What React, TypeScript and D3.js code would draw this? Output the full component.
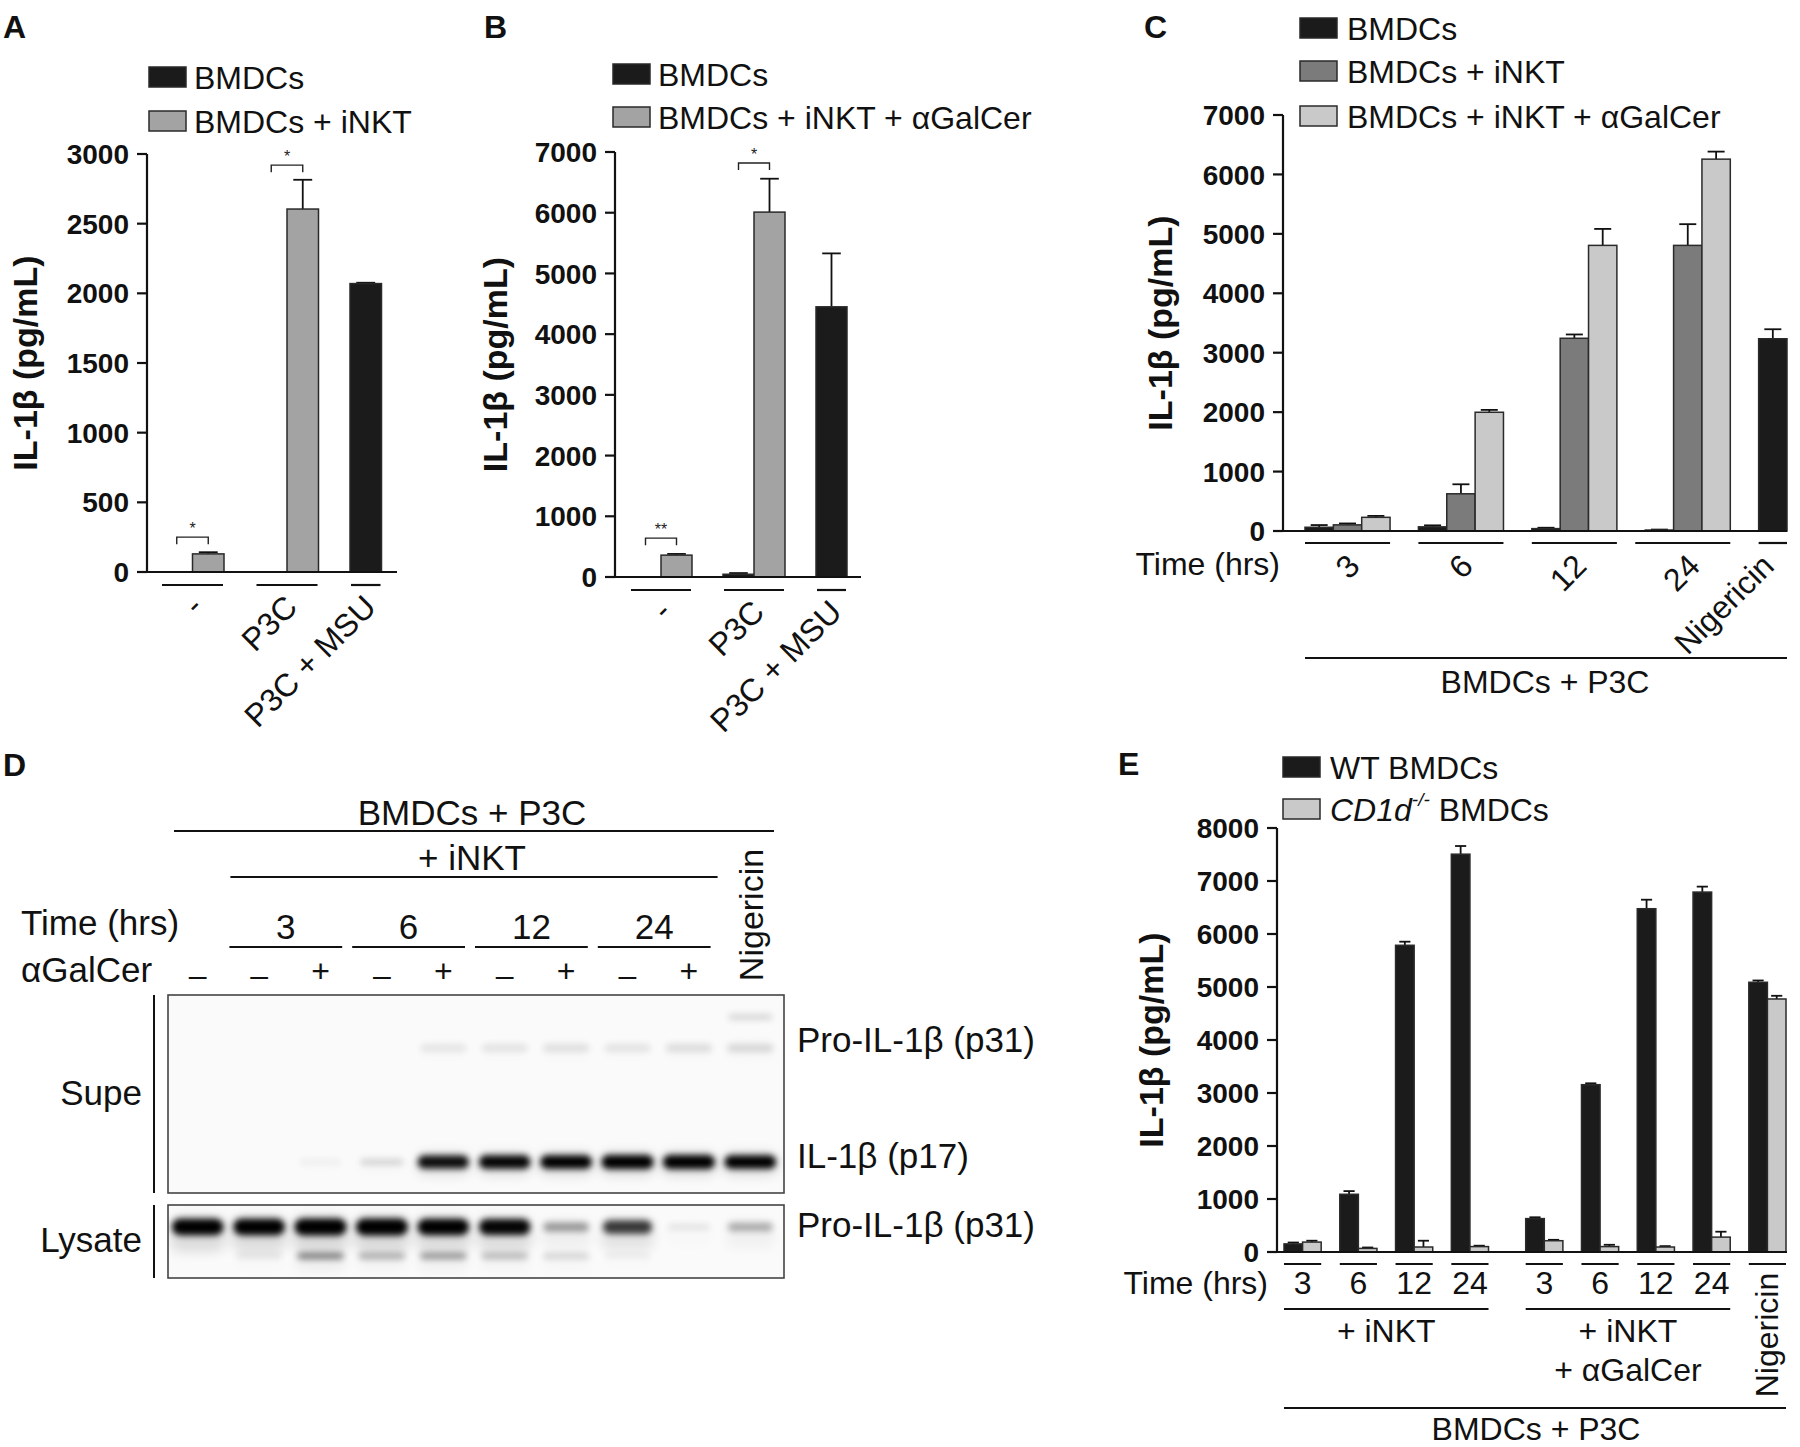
import React from "react";
import * as d3 from "d3";

const FONT = "'Liberation Sans', Arial, Helvetica, sans-serif";
const C_BLACK = "#1b1b1b";
const C_GRAY = "#a3a3a3";
const C_DARK = "#7b7b7b";
const C_LIGHT = "#c9c9c9";
const C_STROKE = "#2a2a2a";

// ---------- Panel A ----------
const aCategories = ["-", "P3C", "P3C + MSU"];
const aLegend = ["BMDCs", "BMDCs + iNKT"];
const aBMDCs = [0, 0, 2070];
const aBMDCsErr = [0, 0, 6];
const aINKT = [130, 2605, NaN];
const aINKTErr = [12, 210, NaN];
const aTicks = [0, 500, 1000, 1500, 2000, 2500, 3000];
const aSig = [
  { group: 0, label: "*", level: 250 },
  { group: 1, label: "*", level: 2920 },
];

// ---------- Panel B ----------
const bCategories = ["-", "P3C", "P3C + MSU"];
const bLegend = ["BMDCs", "BMDCs + iNKT + αGalCer"];
const bBMDCs = [0, 45, 4450];
const bBMDCsErr = [0, 20, 880];
const bAgal = [360, 6010, NaN];
const bAgalErr = [20, 550, NaN];
const bTicks = [0, 1000, 2000, 3000, 4000, 5000, 6000, 7000];
const bSig = [
  { group: 0, label: "**", level: 640 },
  { group: 1, label: "*", level: 6820 },
];

// ---------- Panel C ----------
const cCategories = ["3", "6", "12", "24", "Nigericin"];
const cLegend = ["BMDCs", "BMDCs + iNKT", "BMDCs + iNKT + αGalCer"];
const cBMDCs = [63, 70, 40, 16, 3235];
const cBMDCsErr = [37, 25, 15, 8, 160];
const cINKT = [103, 626, 3243, 4806, NaN];
const cINKTErr = [24, 160, 64, 357, NaN];
const cAgal = [230, 1998, 4806, 6257, NaN];
const cAgalErr = [24, 40, 277, 127, NaN];
const cTicks = [0, 1000, 2000, 3000, 4000, 5000, 6000, 7000];

// ---------- Panel D (western blot) ----------
const dLanes = ["L1", "L2", "L3", "L4", "L5", "L6", "L7", "L8", "L9", "L10"];
const dAgal = ["–", "–", "+", "–", "+", "–", "+", "–", "+", ""];
const dTimes = ["3", "6", "12", "24"];
const dSupeP31 = [0, 0, 0, 0, 0.07, 0.08, 0.09, 0.08, 0.1, 0.12];
const dSupeHigh = [0, 0, 0, 0, 0, 0, 0, 0, 0, 0.14];
const dSupeP17 = [0, 0, 0.04, 0.13, 0.9, 0.93, 0.96, 1, 1, 0.97];
const dLysP31 = [0.95, 0.95, 1, 1, 0.95, 0.93, 0.35, 0.72, 0.08, 0.28];
const dLysLow = [0, 0.06, 0.45, 0.27, 0.36, 0.22, 0.13, 0.04, 0, 0];

// ---------- Panel E ----------
const eLegend = ["WT BMDCs", "CD1d-/- BMDCs"];
const eTimes = ["3", "6", "12", "24", "3", "6", "12", "24", "Nigericin"];
const eWT = [153, 1089, 5787, 7506, 630, 3157, 6477, 6791, 5089];
const eWTErr = [26, 60, 68, 154, 25, 26, 170, 103, 34];
const eCD1d = [187, 68, 94, 102, 213, 102, 94, 281, 4774];
const eCD1dErr = [26, 17, 119, 17, 17, 34, 17, 102, 60];
const eTicks = [0, 1000, 2000, 3000, 4000, 5000, 6000, 7000, 8000];

type Bar = { slot: number; value: number; err: number; fill: string };

function BarsLayer({ sx, y, bars }: { sx: any; y: any; bars: Bar[] }) {
  return (
    <g>
      {bars
        .filter((b) => !isNaN(b.value))
        .map((b, i) => {
          const x0 = sx(b.slot);
          const x1 = sx(b.slot + 1);
          const w = x1 - x0;
          const cx = (x0 + x1) / 2;
          const top = y(b.value);
          const base = y(0);
          const et = y(b.value + b.err);
          return (
            <g key={i}>
              {b.err > 0 && (
                <g stroke="#111" strokeWidth={1.8}>
                  <line x1={cx} x2={cx} y1={top} y2={et} />
                  <line x1={cx - w * 0.3} x2={cx + w * 0.3} y1={et} y2={et} />
                </g>
              )}
              {b.value > 0 && (
                <rect
                  x={x0}
                  y={top}
                  width={w}
                  height={base - top}
                  fill={b.fill}
                  stroke={C_STROKE}
                  strokeWidth={1.5}
                />
              )}
            </g>
          );
        })}
    </g>
  );
}

function YAxis({ x, y, ticks, labelX }: any) {
  const y0 = y(ticks[0]);
  const y1 = y(ticks[ticks.length - 1]);
  return (
    <g>
      <line x1={x} x2={x} y1={y0 + 1} y2={y1} stroke="#111" strokeWidth={2.2} />
      {ticks.map((t: number) => (
        <g key={t}>
          <line x1={x - 10} x2={x} y1={y(t)} y2={y(t)} stroke="#111" strokeWidth={2.2} />
          <text
            x={x - 18}
            y={y(t)}
            dy="0.36em"
            textAnchor="end"
            fontFamily={FONT}
            fontWeight="bold"
            fontSize={28}
            fill="#111"
          >
            {t}
          </text>
        </g>
      ))}
      <text
        transform={`translate(${labelX},${(y0 + y1) / 2}) rotate(-90)`}
        textAnchor="middle"
        fontFamily={FONT}
        fontWeight="bold"
        fontSize={34}
        fill="#111"
      >
        IL-1β (pg/mL)
      </text>
    </g>
  );
}

function Legend({ x, tx, rows }: any) {
  return (
    <g>
      {rows.map((r: any, i: number) => (
        <g key={i}>
          <rect x={x} y={r.y - 10} width={37} height={20} fill={r.fill} stroke={C_STROKE} strokeWidth={1.5} />
          <text x={tx} y={r.y} dy="0.36em" fontFamily={FONT} fontSize={32} fill="#111">
            {r.label}
          </text>
        </g>
      ))}
    </g>
  );
}

function Sig({ sx, y, slotA, slotB, label, level }: any) {
  const xa = (sx(slotA) + sx(slotA + 1)) / 2;
  const xb = (sx(slotB) + sx(slotB + 1)) / 2;
  const yy = y(level);
  return (
    <g>
      <path d={`M${xa},${yy + 7}V${yy}H${xb}V${yy + 7}`} fill="none" stroke="#222" strokeWidth={1.4} />
      <text x={(xa + xb) / 2} y={yy - 3} textAnchor="middle" fontFamily={FONT} fontSize={16} fill="#222">
        {label}
      </text>
    </g>
  );
}

function PanelLetter({ x, y, l }: any) {
  return (
    <text x={x} y={y} fontFamily={FONT} fontWeight="bold" fontSize={32} fill="#111">
      {l}
    </text>
  );
}

function GroupedBarAB({ cats, legend, black, blackErr, second, secondErr, ticks, sig, yMax, opts }: any) {
  const sx = d3.scaleLinear().domain([0, 7]).range(opts.slotRange);
  const y = d3.scaleLinear().domain([0, yMax]).range(opts.yRange);
  const groupSlots = [[0, 1], [3, 4], [6]];
  const bars: Bar[] = [];
  cats.forEach((_: string, g: number) => {
    bars.push({ slot: groupSlots[g][0], value: black[g], err: blackErr[g], fill: C_BLACK });
    if (groupSlots[g].length > 1)
      bars.push({ slot: groupSlots[g][1], value: second[g], err: secondErr[g], fill: C_GRAY });
  });
  const ulY = y(0) + 13;
  return (
    <g>
      <PanelLetter x={opts.letterX} y={38} l={opts.letter} />
      <Legend
        x={opts.legX}
        tx={opts.legX + 45}
        rows={[
          { y: opts.legY[0], fill: C_BLACK, label: legend[0] },
          { y: opts.legY[1], fill: C_GRAY, label: legend[1] },
        ]}
      />
      <BarsLayer sx={sx} y={y} bars={bars} />
      <YAxis x={opts.axisX} y={y} ticks={ticks} labelX={opts.labelX} />
      <line x1={opts.axisX} x2={opts.xEnd} y1={y(0)} y2={y(0)} stroke="#111" strokeWidth={2.2} />
      {cats.map((c: string, g: number) => {
        const s0 = groupSlots[g][0];
        const s1 = groupSlots[g][groupSlots[g].length - 1] + 1;
        const cx = (sx(s0) + sx(s1)) / 2;
        return (
          <g key={c}>
            <line x1={sx(s0) + 1} x2={sx(s1) - 1} y1={ulY} y2={ulY} stroke="#111" strokeWidth={2.2} />
            <text
              transform={`translate(${cx + 12},${ulY + 24}) rotate(-45)`}
              textAnchor="end"
              fontFamily={FONT}
              fontSize={32}
              fill="#111"
            >
              {c}
            </text>
          </g>
        );
      })}
      {sig.map((s: any, i: number) => (
        <Sig
          key={i}
          sx={sx}
          y={y}
          slotA={groupSlots[s.group][0]}
          slotB={groupSlots[s.group][1]}
          label={s.label}
          level={s.level}
        />
      ))}
    </g>
  );
}

function PanelC() {
  const sx = d3.scaleLinear().domain([0, 17]).range([1305, 1787]);
  const y = d3.scaleLinear().domain([0, 7000]).range([531, 115]);
  const axisX = 1283;
  const groupStart = [0, 4, 8, 12, 16];
  const bars: Bar[] = [];
  cCategories.forEach((_, g) => {
    bars.push({ slot: groupStart[g], value: cBMDCs[g], err: cBMDCsErr[g], fill: C_BLACK });
    bars.push({ slot: groupStart[g] + 1, value: cINKT[g], err: cINKTErr[g], fill: C_DARK });
    bars.push({ slot: groupStart[g] + 2, value: cAgal[g], err: cAgalErr[g], fill: C_LIGHT });
  });
  const ulY = y(0) + 12;
  return (
    <g>
      <PanelLetter x={1144} y={38} l="C" />
      <Legend
        x={1300}
        tx={1347}
        rows={[
          { y: 28, fill: C_BLACK, label: cLegend[0] },
          { y: 71, fill: C_DARK, label: cLegend[1] },
          { y: 116, fill: C_LIGHT, label: cLegend[2] },
        ]}
      />
      <BarsLayer sx={sx} y={y} bars={bars} />
      <YAxis x={axisX} y={y} ticks={cTicks} labelX={1172} />
      <line x1={axisX} x2={1787} y1={y(0)} y2={y(0)} stroke="#111" strokeWidth={2.2} />
      <text x={1280} y={575} textAnchor="end" fontFamily={FONT} fontSize={32} fill="#111">
        Time (hrs)
      </text>
      {cCategories.map((c, g) => {
        const s0 = groupStart[g];
        const s1 = g === 4 ? s0 + 1 : s0 + 3;
        const cx = (sx(s0) + sx(s1)) / 2;
        const off = g === 4 ? 3 : 14;
        return (
          <g key={c}>
            <line x1={sx(s0) - (g === 3 ? 10 : 0)} x2={sx(s1)} y1={ulY} y2={ulY} stroke="#111" strokeWidth={2.2} />
            <text
              transform={`translate(${cx + off},${ulY + 25}) rotate(-45)`}
              textAnchor="end"
              fontFamily={FONT}
              fontSize={32}
              fill="#111"
            >
              {c}
            </text>
          </g>
        );
      })}
      <line x1={sx(0)} x2={sx(17)} y1={658} y2={658} stroke="#111" strokeWidth={2} />
      <text x={1545} y={693} textAnchor="middle" fontFamily={FONT} fontSize={32} fill="#111">
        BMDCs + P3C
      </text>
    </g>
  );
}

function PanelE() {
  const sx = d3.scaleLinear().domain([0, 27]).range([1284, 1786]);
  const y = d3.scaleLinear().domain([0, 8000]).range([1252, 828]);
  const axisX = 1277;
  const groupStart = [0, 3, 6, 9, 13, 16, 19, 22, 25];
  const bars: Bar[] = [];
  eTimes.forEach((_, g) => {
    bars.push({ slot: groupStart[g], value: eWT[g], err: eWTErr[g], fill: C_BLACK });
    bars.push({ slot: groupStart[g] + 1, value: eCD1d[g], err: eCD1dErr[g], fill: C_LIGHT });
  });
  const ulY = y(0) + 12;
  return (
    <g>
      <PanelLetter x={1118} y={775} l="E" />
      <g>
        <rect x={1283} y={757} width={37} height={20} fill={C_BLACK} stroke={C_STROKE} strokeWidth={1.5} />
        <text x={1330} y={767} dy="0.36em" fontFamily={FONT} fontSize={32} fill="#111">
          {eLegend[0]}
        </text>
        <rect x={1283} y={799} width={37} height={20} fill={C_LIGHT} stroke={C_STROKE} strokeWidth={1.5} />
        <text x={1330} y={809} dy="0.36em" fontFamily={FONT} fontSize={32} fill="#111">
          <tspan fontStyle="italic">CD1d</tspan>
          <tspan fontStyle="italic" fontSize={19} dy="-0.75em">
            -/-
          </tspan>
          <tspan dy="0.45em"> BMDCs</tspan>
        </text>
      </g>
      <BarsLayer sx={sx} y={y} bars={bars} />
      <YAxis x={axisX} y={y} ticks={eTicks} labelX={1163} />
      <line x1={axisX} x2={1787} y1={y(0)} y2={y(0)} stroke="#111" strokeWidth={2.2} />
      <text x={1268} y={1294} textAnchor="end" fontFamily={FONT} fontSize={32} fill="#111">
        Time (hrs)
      </text>
      {eTimes.map((t, g) => {
        const s0 = groupStart[g];
        const cx = (sx(s0) + sx(s0 + 2)) / 2;
        return (
          <g key={g}>
            <line x1={sx(s0)} x2={sx(s0 + 2)} y1={ulY} y2={ulY} stroke="#111" strokeWidth={2.2} />
            {g < 8 ? (
              <text x={cx} y={1294} textAnchor="middle" fontFamily={FONT} fontSize={32} fill="#111">
                {t}
              </text>
            ) : (
              <text
                transform={`translate(${cx + 11},1335) rotate(-90)`}
                textAnchor="middle"
                fontFamily={FONT}
                fontSize={32}
                fill="#111"
              >
                {t}
              </text>
            )}
          </g>
        );
      })}
      <line x1={sx(0)} x2={sx(11)} y1={1309} y2={1309} stroke="#111" strokeWidth={2} />
      <line x1={sx(13)} x2={sx(24)} y1={1309} y2={1309} stroke="#111" strokeWidth={2} />
      <text x={(sx(0) + sx(11)) / 2} y={1342} textAnchor="middle" fontFamily={FONT} fontSize={32} fill="#111">
        + iNKT
      </text>
      <text x={(sx(13) + sx(24)) / 2} y={1342} textAnchor="middle" fontFamily={FONT} fontSize={32} fill="#111">
        + iNKT
      </text>
      <text x={(sx(13) + sx(24)) / 2} y={1381} textAnchor="middle" fontFamily={FONT} fontSize={32} fill="#111">
        + αGalCer
      </text>
      <line x1={sx(0)} x2={sx(27)} y1={1408} y2={1408} stroke="#111" strokeWidth={2} />
      <text x={1536} y={1440} textAnchor="middle" fontFamily={FONT} fontSize={32} fill="#111">
        BMDCs + P3C
      </text>
    </g>
  );
}

function PanelD() {
  const lx = d3.scaleBand().domain(dLanes).range([167, 781]).padding(0);
  const bw = lx.bandwidth();
  const c = (i: number) => (lx(dLanes[i]) as number) + bw / 2;
  const fs = 35;
  const boxL = 168;
  const boxR = 784;
  const supeT = 995;
  const supeB = 1193;
  const lysT = 1205;
  const lysB = 1278;
  const band = (key: string, i: number, yc: number, v: number, w: number, h: number, tail: number) =>
    v > 0 ? (
      <g key={key + i}>
        <rect
          x={c(i) - w / 2 - 2}
          y={yc - h / 2 - 3}
          width={w + 4}
          height={h + 6 + tail}
          rx={(h + 6) / 2}
          fill="#000"
          opacity={v * 0.12}
          filter="url(#bandHalo)"
        />
        <rect
          x={c(i) - w / 2}
          y={yc - h / 2}
          width={w}
          height={h}
          rx={h / 2}
          fill="#000"
          opacity={Math.min(1, v * 1.05)}
          filter="url(#bandBlur)"
        />
      </g>
    ) : null;
  return (
    <g>
      <defs>
        <filter id="bandBlur" x="-30%" y="-150%" width="160%" height="400%">
          <feGaussianBlur stdDeviation="3.2" />
        </filter>
        <filter id="bandHalo" x="-40%" y="-150%" width="180%" height="400%">
          <feGaussianBlur stdDeviation="6" />
        </filter>
        <clipPath id="supeClip">
          <rect x={boxL} y={supeT} width={boxR - boxL} height={supeB - supeT} />
        </clipPath>
        <clipPath id="lysClip">
          <rect x={boxL} y={lysT} width={boxR - boxL} height={lysB - lysT} />
        </clipPath>
      </defs>
      <PanelLetter x={3} y={776} l="D" />
      <text x={472} y={825} textAnchor="middle" fontFamily={FONT} fontSize={fs} fill="#111">
        BMDCs + P3C
      </text>
      <line x1={174} x2={774} y1={831} y2={831} stroke="#111" strokeWidth={2} />
      <text x={472} y={870} textAnchor="middle" fontFamily={FONT} fontSize={fs} fill="#111">
        + iNKT
      </text>
      <line x1={(lx("L2") as number) + 2} x2={(lx("L9") as number) + bw - 2} y1={877} y2={877} stroke="#111" strokeWidth={2} />
      <text x={21} y={935} fontFamily={FONT} fontSize={fs} fill="#111">
        Time (hrs)
      </text>
      {dTimes.map((t, k) => {
        const a = 1 + k * 2;
        const x0 = (lx(dLanes[a]) as number) + 1;
        const x1 = (lx(dLanes[a + 1]) as number) + bw - 9;
        return (
          <g key={t}>
            <text x={(x0 + x1) / 2} y={939} textAnchor="middle" fontFamily={FONT} fontSize={fs} fill="#111">
              {t}
            </text>
            <line x1={x0} x2={x1} y1={947} y2={947} stroke="#111" strokeWidth={2} />
          </g>
        );
      })}
      <text x={21} y={982} fontFamily={FONT} fontSize={fs} fill="#111">
        αGalCer
      </text>
      {dAgal.map((s, i) => (
        <text key={i} x={c(i)} y={s === "+" ? 982 : 986} textAnchor="middle" fontFamily={FONT} fontSize={32} fill="#111">
          {s}
        </text>
      ))}
      <text
        transform={`translate(${c(9) + 13},915) rotate(-90)`}
        textAnchor="middle"
        fontFamily={FONT}
        fontSize={34}
        fill="#111"
      >
        Nigericin
      </text>
      {/* blot boxes */}
      <rect x={boxL} y={supeT} width={boxR - boxL} height={supeB - supeT} fill="#fafafa" />
      <rect x={boxL} y={lysT} width={boxR - boxL} height={lysB - lysT} fill="#fafafa" />
      <g clipPath="url(#supeClip)">
        {dSupeHigh.map((v, i) => band("sh", i, 1017, v, 44, 5, 0))}
        {dSupeP31.map((v, i) => band("sp31", i, 1048, v, 46, 8, 4))}
        {dSupeP17.map((v, i) => band("p17", i, 1162, v, 42 + 10 * v, 5 + 9 * v, 4))}
      </g>
      <g clipPath="url(#lysClip)">
        {dLysLow.map((v, i) => band("ll", i, 1256, v, 46, 6, 8))}
        {dLysP31.map((v, i) => band("lp", i, 1227, v, 42 + 10 * v, 5 + 12 * v, 14))}
      </g>
      <rect x={boxL} y={supeT} width={boxR - boxL} height={supeB - supeT} fill="none" stroke="#444" strokeWidth={1.6} />
      <rect x={boxL} y={lysT} width={boxR - boxL} height={lysB - lysT} fill="none" stroke="#444" strokeWidth={1.6} />
      <line x1={154} x2={154} y1={supeT} y2={supeB} stroke="#111" strokeWidth={2} />
      <line x1={154} x2={154} y1={lysT} y2={lysB} stroke="#111" strokeWidth={2} />
      <text x={142} y={1105} textAnchor="end" fontFamily={FONT} fontSize={fs} fill="#111">
        Supe
      </text>
      <text x={142} y={1252} textAnchor="end" fontFamily={FONT} fontSize={fs} fill="#111">
        Lysate
      </text>
      <text x={797} y={1052} fontFamily={FONT} fontSize={fs} fill="#111">
        Pro-IL-1β (p31)
      </text>
      <text x={797} y={1168} fontFamily={FONT} fontSize={fs} fill="#111">
        IL-1β (p17)
      </text>
      <text x={797} y={1237} fontFamily={FONT} fontSize={fs} fill="#111">
        Pro-IL-1β (p31)
      </text>
    </g>
  );
}

export default function App() {
  return (
    <svg
      width={1800}
      height={1447}
      viewBox="0 0 1800 1447"
      style={{ position: "absolute", left: 0, top: 0, background: "#fff" }}
    >
      <rect width={1800} height={1447} fill="#fff" />
      <GroupedBarAB
        cats={aCategories}
        legend={aLegend}
        black={aBMDCs}
        blackErr={aBMDCsErr}
        second={aINKT}
        secondErr={aINKTErr}
        ticks={aTicks}
        sig={aSig}
        yMax={3000}
        opts={{
          slotRange: [161, 381.5],
          yRange: [572, 154],
          axisX: 147,
          xEnd: 397,
          labelX: 37,
          letter: "A",
          letterX: 3,
          legX: 149,
          legY: [77, 121],
        }}
      />
      <GroupedBarAB
        cats={bCategories}
        legend={bLegend}
        black={bBMDCs}
        blackErr={bBMDCsErr}
        second={bAgal}
        secondErr={bAgalErr}
        ticks={bTicks}
        sig={bSig}
        yMax={7000}
        opts={{
          slotRange: [630, 847],
          yRange: [577, 152],
          axisX: 615,
          xEnd: 861,
          labelX: 507,
          letter: "B",
          letterX: 484,
          legX: 613,
          legY: [74, 117],
        }}
      />
      <PanelC />
      <PanelD />
      <PanelE />
    </svg>
  );
}
